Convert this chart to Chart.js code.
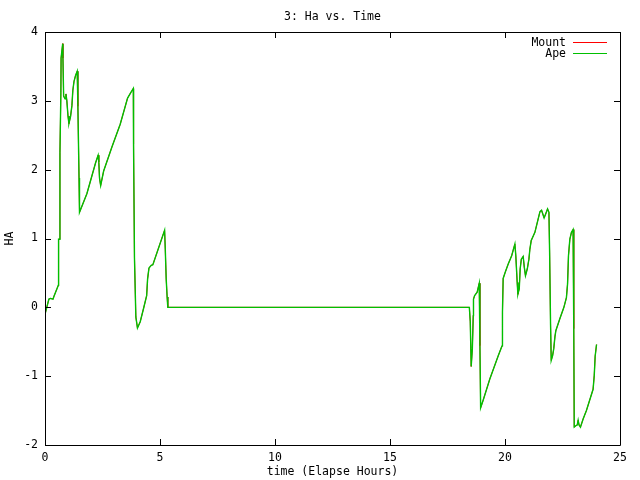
<!DOCTYPE html>
<html>
<head>
<meta charset="utf-8">
<script src="https://cdn.jsdelivr.net/npm/chart.js@4/dist/chart.umd.min.js"></script>
<style>
  html, body { margin: 0; padding: 0; background: #ffffff; }
  canvas { display: block; }
</style>
</head>
<body>
<canvas id="c" width="640" height="480"></canvas>
<script>
// ---- data ----
const timeHours = [
  0.00, 0.17, 0.23, 0.35, 0.40, 0.52, 0.58, 0.59, 0.63, 0.65, 0.69, 0.70, 0.77, 0.78, 0.81,
  0.87, 0.91, 0.95, 1.00, 1.04, 1.11, 1.17, 1.21, 1.26, 1.33, 1.40, 1.43, 1.48, 1.50, 1.82,
  2.20, 2.31, 2.34, 2.37, 2.42, 2.55, 2.91, 3.27, 3.59, 3.73, 3.84, 3.85, 3.89, 3.95, 4.02,
  4.14, 4.29, 4.42, 4.46, 4.52, 4.62, 4.69, 5.20, 5.23, 5.27, 5.31, 5.34,
  18.45, 18.49, 18.53, 18.58, 18.62, 18.63, 18.68, 18.79, 18.88, 18.91, 18.94,
  19.05, 19.34, 19.71, 19.87, 19.89, 19.92, 20.01, 20.14, 20.29, 20.43, 20.47, 20.53, 20.56,
  20.62, 20.66, 20.71, 20.79, 20.84, 20.89, 20.97, 21.04, 21.08, 21.14, 21.30, 21.52, 21.59,
  21.70, 21.76, 21.85, 21.91, 21.94, 21.98, 22.01, 22.07, 22.12, 22.17, 22.21, 22.38, 22.56,
  22.67, 22.72, 22.76, 22.82, 22.89, 22.96, 22.99, 23.01, 23.08, 23.14, 23.18, 23.22, 23.28,
  23.40, 23.54, 23.83, 23.88, 23.92, 23.98
];
const mountHa = [
  -0.10, 0.12, 0.13, 0.12, 0.17, 0.27, 0.32, 0.99, 0.99, 2.25, 3.12, 3.62, 3.83, 3.62, 3.07,
  3.03, 3.10, 3.00, 2.78, 2.67, 2.77, 2.93, 3.15, 3.28, 3.37, 3.43, 2.92, 1.88, 1.38, 1.65,
  2.10, 2.21, 2.11, 1.88, 1.77, 1.98, 2.33, 2.66, 3.04, 3.12, 3.18, 2.37, 0.72, -0.14, -0.30,
  -0.21, -0.01, 0.17, 0.41, 0.57, 0.61, 0.62, 1.12, 0.84, 0.41, 0.15, 0.00,
  0.00, -0.21, -0.86, -0.60, -0.12, 0.12, 0.17, 0.22, 0.35, -0.56, -1.46,
  -1.35, -1.04, -0.70, -0.56, -0.07, 0.42, 0.51, 0.63, 0.75, 0.92, 0.75, 0.36, 0.19,
  0.27, 0.56, 0.70, 0.74, 0.58, 0.46, 0.56, 0.70, 0.84, 0.97, 1.09, 1.39, 1.41,
  1.30, 1.35, 1.43, 1.38, 0.80, -0.24, -0.77, -0.70, -0.60, -0.43, -0.34, -0.17, 0.00,
  0.14, 0.34, 0.75, 0.99, 1.09, 1.13, -0.31, -1.74, -1.72, -1.71, -1.64, -1.71, -1.74,
  -1.62, -1.50, -1.19, -0.99, -0.71, -0.54
];
const apeHa = [
  -0.10, 0.12, 0.13, 0.12, 0.17, 0.27, 0.32, 0.99, 0.99, 2.25, 3.12, 3.62, 3.83, 3.62, 3.07,
  3.03, 3.10, 3.00, 2.78, 2.67, 2.77, 2.93, 3.15, 3.28, 3.37, 3.43, 2.92, 1.88, 1.38, 1.65,
  2.10, 2.21, 2.11, 1.88, 1.77, 1.98, 2.33, 2.66, 3.04, 3.12, 3.18, 2.37, 0.72, -0.14, -0.30,
  -0.21, -0.01, 0.17, 0.41, 0.57, 0.61, 0.62, 1.12, 0.84, 0.41, 0.15, 0.00,
  0.00, -0.21, -0.86, -0.60, -0.12, 0.12, 0.17, 0.22, 0.35, -0.56, -1.46,
  -1.35, -1.04, -0.70, -0.56, -0.07, 0.42, 0.51, 0.63, 0.75, 0.92, 0.75, 0.36, 0.19,
  0.27, 0.56, 0.70, 0.74, 0.58, 0.46, 0.56, 0.70, 0.84, 0.97, 1.09, 1.39, 1.41,
  1.30, 1.35, 1.43, 1.38, 0.80, -0.24, -0.77, -0.70, -0.60, -0.43, -0.34, -0.17, 0.00,
  0.14, 0.34, 0.75, 0.99, 1.09, 1.13, -0.31, -1.74, -1.72, -1.71, -1.64, -1.71, -1.74,
  -1.62, -1.50, -1.19, -0.99, -0.71, -0.54
];
const seriesNames = ['Mount', 'Ape'];
const seriesColors = ['#ff0000', '#00c000'];
const xTickValues = [0, 5, 10, 15, 20, 25];
const yTickValues = [-2, -1, 0, 1, 2, 3, 4];
const chartTitle = '3: Ha vs. Time';
const xTitle = 'time (Elapse Hours)';
const yTitle = 'HA';

const FONT = { family: '"DejaVu Sans Mono", "Liberation Mono", monospace', size: 11.5 };

function toPoints(xs, ys) {
  return xs.map((x, i) => ({ x: x, y: ys[i] }));
}

// border box, inward mirrored ticks and inside legend (gnuplot style)
const gnuplotFrame = {
  id: 'gnuplotFrame',
  afterDatasetsDraw(chart) {
    const ctx = chart.ctx;
    const a = chart.chartArea;
    const xs = chart.scales.x, ys = chart.scales.y;
    const L = 6;
    ctx.save();
    ctx.strokeStyle = '#000000';
    ctx.lineWidth = 1;
    ctx.setLineDash([]);
    ctx.beginPath();
    ctx.rect(Math.round(a.left) + 0.5, Math.round(a.top) + 0.5,
             Math.round(a.right - a.left), Math.round(a.bottom - a.top));
    xTickValues.forEach(v => {
      const px = Math.round(xs.getPixelForValue(v)) + 0.5;
      ctx.moveTo(px, a.bottom); ctx.lineTo(px, a.bottom - L);
      ctx.moveTo(px, a.top); ctx.lineTo(px, a.top + L);
    });
    yTickValues.forEach(v => {
      const py = Math.round(ys.getPixelForValue(v)) + 0.5;
      ctx.moveTo(a.left, py); ctx.lineTo(a.left + L, py);
      ctx.moveTo(a.right, py); ctx.lineTo(a.right - L, py);
    });
    ctx.stroke();

    // legend
    ctx.font = FONT.size + 'px ' + FONT.family;
    ctx.textAlign = 'right';
    ctx.textBaseline = 'middle';
    ctx.fillStyle = '#000000';
    seriesNames.forEach((name, i) => {
      const y = Math.round(a.top + 10 + i * 11) + 0.5;
      ctx.fillText(name, a.right - 54, y + 0.5);
      ctx.beginPath();
      ctx.strokeStyle = seriesColors[i];
      ctx.lineWidth = 1;
      ctx.moveTo(a.right - 47, y);
      ctx.lineTo(a.right - 13, y);
      ctx.stroke();
    });
    ctx.restore();
  }
};

new Chart(document.getElementById('c'), {
  type: 'line',
  data: {
    datasets: [
      { label: seriesNames[0], data: toPoints(timeHours, mountHa), borderColor: seriesColors[0],
        backgroundColor: seriesColors[0], borderWidth: 1, pointRadius: 0, tension: 0, fill: false, order: 1 },
      { label: seriesNames[1], data: toPoints(timeHours, apeHa), borderColor: seriesColors[1],
        backgroundColor: seriesColors[1], borderWidth: 1.4, pointRadius: 0, tension: 0, fill: false, order: 0 }
    ]
  },
  options: {
    responsive: false,
    animation: false,
    devicePixelRatio: 1,
    layout: { padding: { left: 0, right: 20, top: 0, bottom: 0 } },
    plugins: {
      legend: { display: false },
      tooltip: { enabled: false },
      title: {
        display: true, fullSize: false, text: chartTitle, color: '#000000',
        font: { family: FONT.family, size: FONT.size, weight: 'normal' },
        padding: { top: 10, bottom: 8.2 }
      }
    },
    scales: {
      x: {
        type: 'linear', min: 0, max: 25,
        afterBuildTicks: s => { s.ticks = xTickValues.map(v => ({ value: v })); },
        afterFit: s => { s.height = 35; },
        grid: { display: false, drawTicks: false },
        border: { display: false },
        ticks: { color: '#000000', font: FONT, padding: 6, maxRotation: 0, autoSkip: false },
        title: { display: true, text: xTitle, color: '#000000', font: FONT, padding: { top: 0, bottom: 1 } }
      },
      y: {
        type: 'linear', min: -2, max: 4,
        afterBuildTicks: s => { s.ticks = yTickValues.map(v => ({ value: v })); },
        afterFit: s => { s.width = 45; },
        grid: { display: false, drawTicks: false },
        border: { display: false },
        ticks: { color: '#000000', font: FONT, padding: 7, autoSkip: false },
        title: { display: true, text: yTitle, color: '#000000', font: FONT, padding: { top: 3, bottom: 0 } }
      }
    }
  },
  plugins: [gnuplotFrame]
});
</script>
</body>
</html>
